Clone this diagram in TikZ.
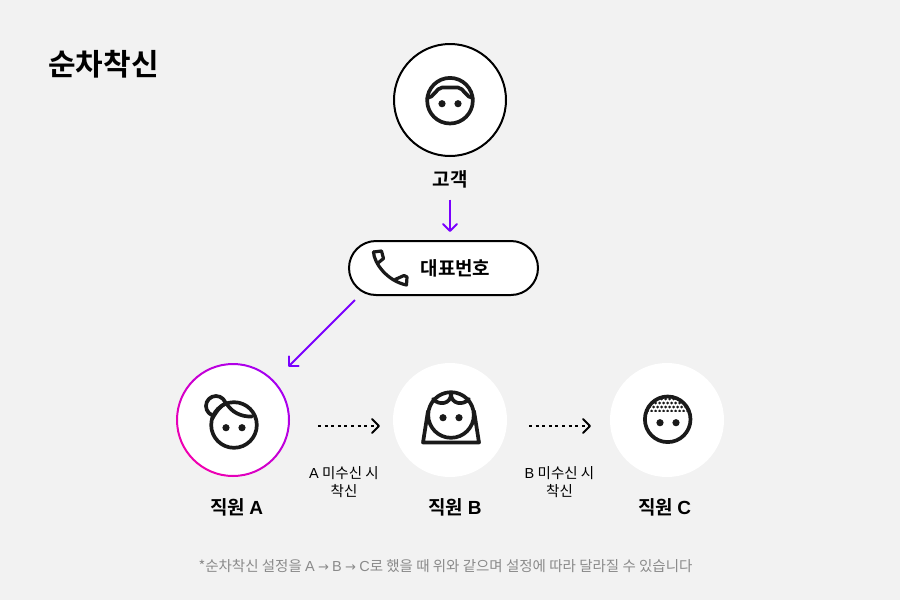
\documentclass[tikz,border=0pt]{standalone}
\usepackage{fontspec}
\setmainfont{Noto Sans CJK KR}[BoldFont={Noto Sans CJK KR Bold}]
\newfontfamily\latn{Liberation Sans}[BoldFont={Liberation Sans Bold}]
\newfontfamily\arrowf{DejaVu Sans}
\usetikzlibrary{arrows.meta,shapes.misc}
\definecolor{bgc}{HTML}{F2F2F2}
\definecolor{inkc}{HTML}{1A1A1A}
\definecolor{violetc}{HTML}{7A00FF}
\definecolor{noteC}{HTML}{8A8A8A}
\definecolor{ringA}{HTML}{A600F0}
\definecolor{ringB}{HTML}{F000B0}
\tikzset{
  x=1pt,y=-1pt,
  disc/.style={circle,fill=white,minimum size=114pt,inner sep=0pt,outer sep=0pt},
  icon/.style={draw=inkc,line width=3.7pt,line cap=round,line join=round},
  eye/.style={fill=inkc},
  barb/.style={-{Straight Barb[length=7pt,width=14pt,line width=2pt,round]}},
  flow/.style={barb,draw=violetc,line width=1.8pt},
  nextstep/.style={barb,draw=black,line width=2pt,dash pattern=on 3pt off 3.6pt},
  lab/.style={font=\fontsize{19}{22}\selectfont\bfseries,inner sep=0pt,text=black},
  small/.style={font=\fontsize{14.5}{17.5}\selectfont,inner sep=0pt,align=center,text=black},
}
\begin{document}
\begin{tikzpicture}
\useasboundingbox (0,0) rectangle (900,600);
\fill[bgc] (0,0) rectangle (900,600);
\node[font=\fontsize{30}{34}\selectfont\bfseries,inner sep=0pt,anchor=west] (title) at (48,64.5) {순차착신};
% customer
\node[disc,draw=black,line width=2pt,minimum size=112pt] (cust) at (450,100) {};
\draw[icon] (450,100.7) circle[radius=22.8];
\draw[icon] (427,98) .. controls (434,98) and (436,88) .. (442,87.5) -- (458,87.5) .. controls (464,88) and (466,98) .. (473,98);
\fill[eye] (442,103.7) circle[radius=3.6] (458,103.7) circle[radius=3.6];
\node[lab] (custlab) at (450,179) {고객};
% pill
\node[rounded rectangle,draw=black,fill=white,line width=2pt,minimum width=189pt,minimum height=54pt,inner sep=0pt] (pill) at (443.5,268) {};
\node[lab] (pilltext) at (455.5,268.5) {대표번호};
\draw[icon,line width=3.2pt] (373.5,252) -- (381.5,251) -- (383.5,258.5) -- (378,263);
\draw[icon,line width=3.2pt] (373.5,252) .. controls (374,263) and (387,281) .. (406.5,285) -- (407,277) -- (404,275.5) -- (395,279.5);
% staff discs
\node[disc] (a) at (233,420) {};
\node[disc] (b) at (450,420) {};
\node[disc] (c) at (667,420) {};
\shade[left color=ringA,right color=ringB,shading angle=-45,even odd rule]
  (233,420) circle[radius=57] (233,420) circle[radius=55];
% icon A
\draw[icon] (216,406) circle[radius=10];
\draw[icon,fill=white] (234,425) circle[radius=22.8];
\draw[icon] (212,419) .. controls (216,412) and (220,406) .. (226,403);
\draw[icon] (226,402.5) .. controls (231,412) and (241,417) .. (252,416.5);
\fill[eye] (226,427.7) circle[radius=3.6] (242,427.7) circle[radius=3.6];
% icon B
\draw[icon] (451,415) circle[radius=22.8];
\draw[icon] (451,394) .. controls (451,404) and (439,406) .. (433,399);
\draw[icon] (451,394) .. controls (451,404) and (463,406) .. (469,399);
\draw[icon] (428,411) -- (423,442.5) -- (479,442.5) -- (474,411);
\fill[eye] (443,417.7) circle[radius=3.6] (459,417.7) circle[radius=3.6];
% icon C
\begin{scope}
\clip (640,390) rectangle (696,411.5);
\clip (667.7,419.3) circle[radius=22];
\foreach \i in {0,...,13} \foreach \j in {0,1,2,3,4}
  \fill[inkc] ({643.5+\i*4+mod(\j,2)*2},{395+\j*4}) circle[radius=1.5];
\end{scope}
\draw[icon] (667.7,419.3) circle[radius=22.8];
\fill[eye] (660,422.7) circle[radius=3.6] (676,422.7) circle[radius=3.6];
% labels
\node[lab] (alab) at (236.5,507.5) {직원 {\latn A}};
\node[lab] (blab) at (455,507.5) {직원 {\latn B}};
\node[lab] (clab) at (664.5,507.5) {직원 {\latn C}};
\node[small] (amiss) at (344,482) {{\latn A} 미수신 시\\착신};
\node[small] (bmiss) at (559.5,482) {{\latn B} 미수신 시\\착신};
\node[font=\fontsize{14.5}{17}\selectfont,text=noteC,inner sep=0pt] (note) at (445.5,566) {*순차착신 설정을 {\latn A} {\fontsize{13}{17}\selectfont\arrowf →} {\latn B} {\fontsize{13}{17}\selectfont\arrowf →} {\latn C}로 했을 때 위와 같으며 설정에 따라 달라질 수 있습니다};
% connectors
\draw[flow,shorten <=11.5pt,shorten >=8pt] (custlab) -- (pill.north -| custlab);
\coordinate (pillfoot) at (355,300);
\coordinate (ahead) at (288,367);
\draw[flow] (pillfoot) -- (ahead);
\coordinate (s1) at (318,426); \coordinate (e1) at (380,426);
\coordinate (s2) at (529,426); \coordinate (e2) at (591,426);
\draw[nextstep] (s1) -- (e1);
\draw[nextstep] (s2) -- (e2);
\end{tikzpicture}
\end{document}
